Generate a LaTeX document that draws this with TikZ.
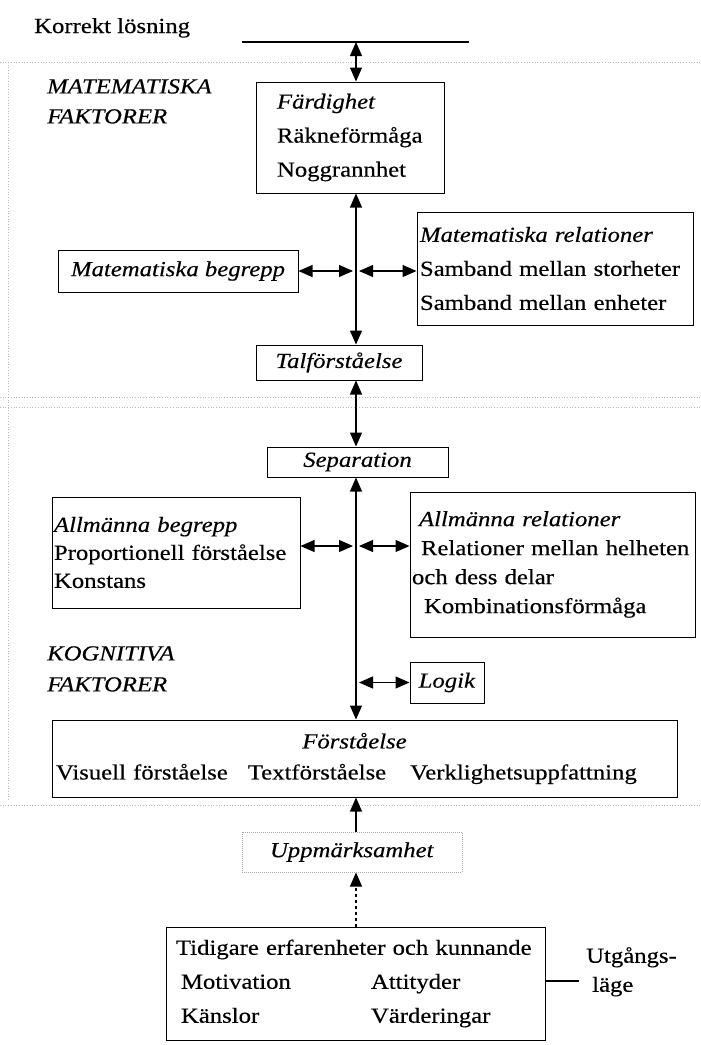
\documentclass[tikz,border=0pt]{standalone}
\usepackage{fontspec}
\setmainfont{Liberation Serif}[FakeStretch=1.15,FakeBold=0.4]
\usetikzlibrary{arrows.meta}

\begin{document}
\begin{tikzpicture}[
    x=1pt, y=-1pt,
    >={Triangle[length=14pt,width=12pt]},
    box/.style={
        draw, line width=1pt, align=left,
        inner xsep=3pt, inner ysep=2pt,
        font=\fontsize{21.5}{34}\selectfont
    },
    tag/.style={inner sep=0pt, align=left, font=\fontsize{21.5}{30}\selectfont},
    link/.style={line width=1.1pt},
    divider/.style={gray!55, dotted, line width=0.7pt}
]
\useasboundingbox (0,0) rectangle (701,1045);

% region borders
\draw[divider] (0,62)  -- (701,62);
\draw[divider] (0,397) -- (701,397);
\draw[divider] (0,407) -- (701,407);
\draw[divider] (0,805) -- (701,805);
\draw[divider] (8,62)  -- (8,800);

% goal
\node[tag, anchor=base west] (goaltxt) at (34,33) {Korrekt lösning};
\coordinate (goalL) at (242,42);
\coordinate (goalR) at (469,42);
\coordinate (goal)  at (356,42);
\draw[line width=1.2pt] (goalL) -- (goalR);

\node[tag, anchor=north west, font=\fontsize{21.5}{30}\selectfont\itshape] (matfak) at (47,79) {MATEMATISKA\\FAKTORER};
\node[tag, anchor=north west, font=\fontsize{21.5}{31}\selectfont\itshape] (kogfak) at (47,646) {KOGNITIVA\\FAKTORER};

% mathematical factors
\node[box, text width=146pt, inner xsep=21pt, minimum height=111pt] (fard) at (350,137.5)
    {\textit{Färdighet}\\Räkneförmåga\\Noggrannhet};
\node[box, minimum width=240pt, minimum height=42pt] (begr) at (178,271)
    {\textit{Matematiska begrepp}};
\node[box, text width=270pt, inner xsep=3pt, minimum height=113pt] (matrel) at (555,268.5)
    {\textit{Matematiska relationer}\\Samband mellan storheter\\Samband mellan enheter};
\node[box, minimum width=166pt, minimum height=35pt] (talf) at (339,362.5)
    {\textit{Talförståelse}};

% cognitive factors
\node[box, minimum width=181pt, minimum height=30pt, inner ysep=1pt] (sep) at (357.5,462)
    {\textit{Separation}};
\node[box, text width=244pt, inner xsep=2pt, minimum height=111pt,
      font=\fontsize{21.5}{28}\selectfont] (allbegr) at (176,552.5)
    {\textit{Allmänna begrepp}\\Proportionell förståelse\\Konstans};
\node[box, text width=281pt, inner xsep=2pt, minimum height=145pt,
      font=\fontsize{21.5}{29}\selectfont] (allrel) at (552.5,564.5)
    {\hspace*{7pt}\textit{Allmänna relationer}\\\hspace*{9pt}Relationer mellan helheten\\och dess delar\\\hspace*{12pt}Kombinationsförmåga};
\node[box, minimum width=74pt, minimum height=41pt] (logik) at (447,682.5)
    {\textit{Logik}};
\node[box, text width=617pt, inner xsep=4pt, minimum height=77pt,
      font=\fontsize{21.5}{31}\selectfont] (forst) at (364.5,758.5)
    {\makebox[\linewidth]{\hspace*{-20pt}\textit{Förståelse}}\\Visuell förståelse\hspace{20pt}Textförståelse\hspace{24pt}Verklighetsuppfattning};

% starting point
\node[box, draw=gray!70, densely dotted, minimum width=220pt, minimum height=40pt] (uppm) at (352,852)
    {\textit{Uppmärksamhet}};
\node[box, text width=359pt, inner xsep=10pt, minimum height=113pt] (tid) at (355.5,983.5)
    {Tidigare erfarenheter och kunnande\\\hspace*{5pt}\makebox[190pt][l]{Motivation}Attityder\\\hspace*{5pt}\makebox[190pt][l]{Känslor}Värderingar};
\coordinate (utgend) at (579,981);
\node[tag, anchor=north west, font=\fontsize{21.5}{29}\selectfont] (utg) at (586,947) {Utgångs-\\\hspace*{6pt}läge};

% connectors
\draw[link, <->] (goal) -- (goal |- fard.north);
\draw[link, <->] (goal |- fard.south) -- (goal |- talf.north);
\draw[link, <->] (begr.east) -- ([xshift=-3pt]goal |- begr.east);
\draw[link, <->] ([xshift=3pt]goal |- begr.east) -- (begr.east -| matrel.west);
\draw[link, <->] (goal |- talf.south) -- (goal |- sep.north);
\draw[link, <->] (goal |- sep.south) -- (goal |- forst.north);
\draw[link, <->] ([yshift=6.5pt]allbegr.east) -- ([xshift=-3pt,yshift=6.5pt]goal |- allbegr.east);
\draw[link, <->] ([xshift=3pt,yshift=6.5pt]goal |- allbegr.east) -- ([yshift=6.5pt]allbegr.east -| allrel.west);
\draw[link, <->] ([xshift=3pt]goal |- logik.west) -- (logik.west);
\draw[link, ->] (goal |- uppm.north) -- (goal |- forst.south);
\draw[link, ->, dashed] (goal |- tid.north) -- (goal |- uppm.south);
\draw[link] (tid.east |- utgend) -- (utgend);

\end{tikzpicture}
\end{document}
